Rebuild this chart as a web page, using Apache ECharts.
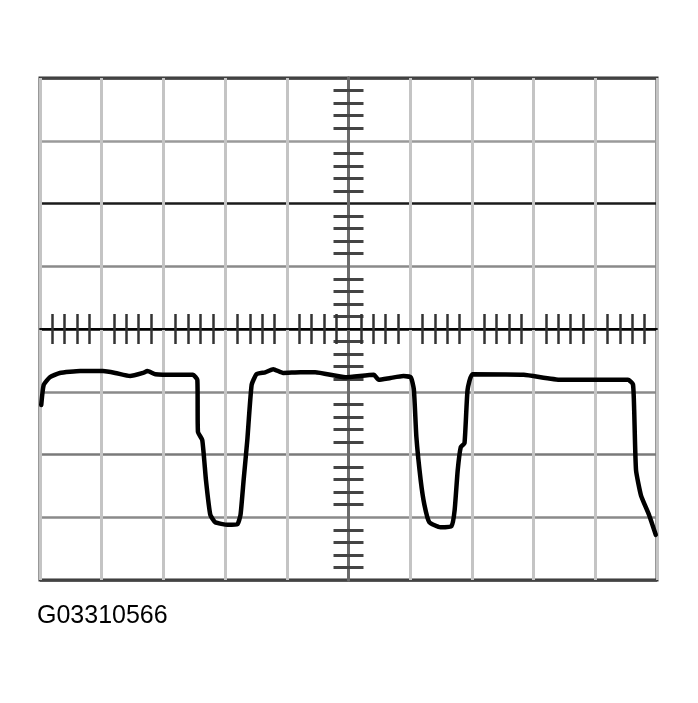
<!DOCTYPE html>
<html>
<head>
<meta charset="utf-8">
<script src="https://cdn.jsdelivr.net/npm/echarts@6/dist/echarts.min.js"></script>
<style>
html,body{margin:0;padding:0;background:#fff;}
#chart{width:698px;height:703px;}
</style>
</head>
<body>
<div id="chart"></div>
<script>
// time in horizontal divisions (centre = 0), voltage in vertical divisions (centre = 0)
var timeDiv = [-4.98,-4.94,-4.84,-4.68,-4.35,-3.98,-3.78,-3.54,-3.33,-3.26,-3.13,-2.81,-2.52,-2.45,-2.44,-2.37,-2.31,-2.24,-2.16,-1.96,-1.80,-1.75,-1.70,-1.64,-1.57,-1.49,-1.35,-1.22,-1.06,-0.78,-0.54,-0.05,0.41,0.49,0.68,0.89,1.01,1.06,1.10,1.17,1.23,1.31,1.49,1.67,1.72,1.77,1.82,1.88,1.93,2.01,2.84,3.44,4.53,4.61,4.63,4.66,4.74,4.87,4.98];
var voltDiv = [-1.21,-0.89,-0.77,-0.70,-0.67,-0.67,-0.70,-0.75,-0.70,-0.67,-0.72,-0.73,-0.73,-0.81,-1.64,-1.77,-2.41,-2.96,-3.08,-3.12,-3.11,-2.96,-2.41,-1.77,-0.89,-0.72,-0.69,-0.64,-0.70,-0.69,-0.69,-0.77,-0.73,-0.81,-0.78,-0.75,-0.77,-0.97,-1.72,-2.41,-2.80,-3.08,-3.16,-3.14,-2.89,-2.25,-1.88,-1.82,-0.97,-0.72,-0.73,-0.81,-0.81,-0.88,-1.29,-2.25,-2.65,-2.96,-3.28];
var xRange = [-5, 5];
var yRange = [-4, 4];
var captionText = 'G03310566';

var points = timeDiv.map(function (t, i) { return [t, voltDiv[i]]; });

var chart = echarts.init(document.getElementById('chart'), null, {renderer: 'canvas'});

function xAx(pos, split) {
  return {
    type: 'value', position: pos, min: xRange[0], max: xRange[1], interval: 1,
    axisLine: {show: true, onZero: true, onZeroAxisIndex: 0, lineStyle: {color: '#000', width: 1.5}},
    axisTick: {show: false, inside: false},
    minorTick: {show: true, splitNumber: 5, length: 15, lineStyle: {color: '#333', width: 2.5}},
    axisLabel: {show: false},
    splitLine: {show: split, lineStyle: {color: '#c4c4c4', width: 3}},
    minorSplitLine: {show: false}
  };
}
function yAx(pos, split) {
  return {
    type: 'value', position: pos, min: yRange[0], max: yRange[1], interval: 1,
    axisLine: {show: true, onZero: true, onZeroAxisIndex: 0, lineStyle: {color: '#6a6a6a', width: 3}},
    axisTick: {show: false, inside: false},
    minorTick: {show: true, splitNumber: 5, length: 15, lineStyle: {color: '#444', width: 3}},
    axisLabel: {show: false},
    splitLine: {show: split, lineStyle: {
      color: ['#444', '#8a8a8a', '#7a7a7a', '#8a8a8a', '#000', '#8a8a8a', '#1a1a1a', '#9a9a9a', '#444'],
      width: 2.5}},
    minorSplitLine: {show: false}
  };
}

chart.setOption({
  animation: false,
  backgroundColor: '#fff',
  grid: {left: 40, top: 78, width: 617, height: 502, show: true, borderColor: '#333', borderWidth: 3, backgroundColor: '#fff', containLabel: false},
  xAxis: [xAx('bottom', true), xAx('top', false)],
  yAxis: [yAx('left', true), yAx('right', false)],
  series: [{
    type: 'line', xAxisIndex: 0, yAxisIndex: 0,
    data: points, showSymbol: false, smooth: 0.15,
    lineStyle: {color: '#000', width: 4.5, cap: 'round', join: 'round'},
    z: 5
  }],
  graphic: [{
    type: 'text', left: 37, top: 604,
    style: {text: captionText, fill: '#000', font: '25px "Liberation Sans", Arial, sans-serif'}
  }]
});
</script>
</body>
</html>
